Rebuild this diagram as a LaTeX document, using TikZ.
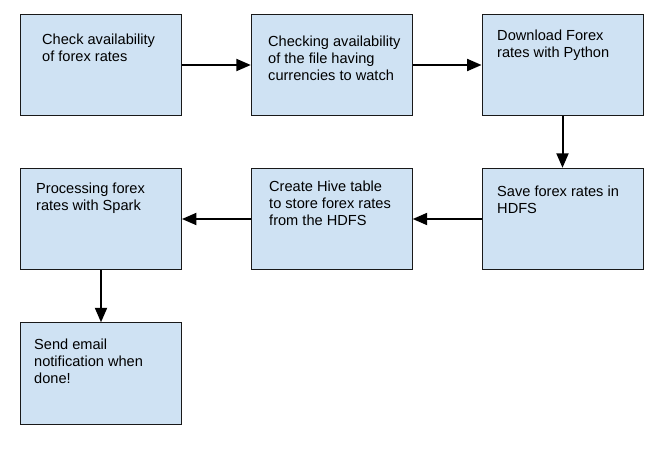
\documentclass[tikz,border=0pt]{standalone}
\usepackage{fontspec}
\setmainfont{Liberation Sans}
\usetikzlibrary{arrows.meta}
\definecolor{boxblue}{HTML}{CFE2F3}
\begin{document}
\begin{tikzpicture}
        [x=1pt,y=-1pt,
         task/.style={draw=black!90,fill=boxblue,line width=0.9pt,minimum width=161pt,minimum height=101.5pt,inner sep=0pt},
         txt/.style={anchor=north west,align=left,inner sep=0pt,font=\fontsize{14.6}{17}\selectfont},
         flow/.style={-{Triangle[length=14.5pt,width=12pt]},line width=2pt}]
        \useasboundingbox (0,0) rectangle (668,455);
        \node[task] (check) at (101,65) {};
        \node[task] (file) at (331.75,65) {};
        \node[task] (down) at (562.5,65) {};
        \node[task] (save) at (562.5,219) {};
        \node[task] (hive) at (331.75,219) {};
        \node[task] (spark) at (101,219) {};
        \node[task] (mail) at (101,373.5) {};

        \node[txt] (tcheck) at (42,33.5) {Check availability\\of forex rates};
        \node[txt] (tfile) at (268,36.2) {Checking availability\\of the file having\\currencies to watch};
        \node[txt] (tdown) at (497,29.5) {Download Forex\\rates with Python};
        \node[txt] (tsave) at (497,186.2) {Save forex rates in\\HDFS};
        \node[txt] (thive) at (269,181.2) {Create Hive table\\to store forex rates\\from the HDFS};
        \node[txt] (tspark) at (36,182.5) {Processing forex\\rates with Spark};
        \node[txt] (tmail) at (34,338.5) {Send email\\notification when\\done!};

        \draw[flow] (check) -- (file);
        \draw[flow] (file) -- (down);
        \draw[flow] (down) -- (save);
        \draw[flow] (save) -- (hive);
        \draw[flow] (hive) -- (spark);
        \draw[flow] (spark) -- (mail);
      \end{tikzpicture}
\end{document}
